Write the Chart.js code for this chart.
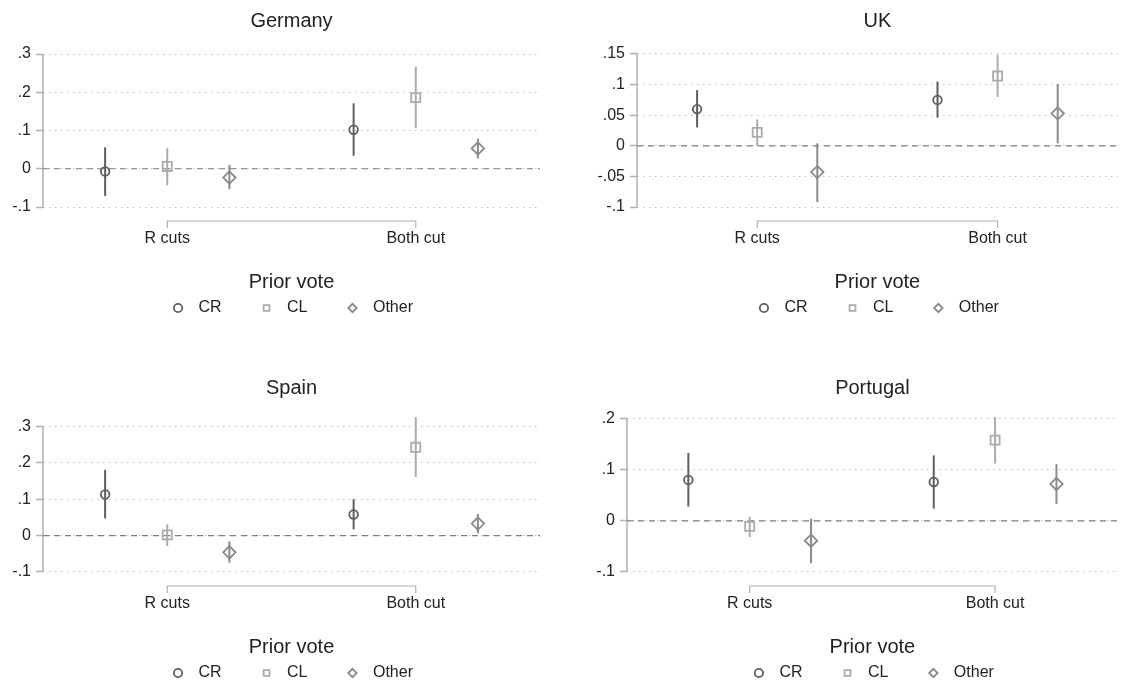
<!DOCTYPE html>
<html>
<head>
<meta charset="utf-8">
<title>Prior vote effects</title>
<script src="https://cdn.jsdelivr.net/npm/chart.js@4.4.1/dist/chart.umd.min.js"></script>
<style>
    html, body { margin: 0; padding: 0; background: #fff; overflow: hidden; }
    #wrap { position: relative; width: 1121px; height: 686px; overflow: hidden; }
    canvas { position: absolute; }
</style>
</head>
<body>
<div id="wrap">
    <canvas id="germany" width="560" height="326" style="left:0;top:0"></canvas>
    <canvas id="uk" width="566" height="326" style="left:560px;top:0"></canvas>
    <canvas id="spain" width="560" height="324" style="left:0;top:367px"></canvas>
    <canvas id="portugal" width="566" height="324" style="left:560px;top:367px"></canvas>
</div>
<script>
// categories and series
const groupLabels = ['R cuts', 'Both cut'];
const seriesNames = ['CR', 'CL', 'Other'];

// estimates per series (rows: CR, CL, Other; cols: R cuts, Both cut)
const germanyEst = [[-0.007, 0.102], [0.006, 0.186], [-0.023, 0.053]];
const germanyLo  = [[-0.071, 0.034], [-0.043, 0.106], [-0.053, 0.027]];
const germanyHi  = [[0.056, 0.171], [0.054, 0.267], [0.010, 0.079]];

const ukEst = [[0.060, 0.075], [0.022, 0.114], [-0.043, 0.053]];
const ukLo  = [[0.030, 0.046], [0.000, 0.080], [-0.092, 0.004]];
const ukHi  = [[0.091, 0.105], [0.043, 0.149], [0.004, 0.101]];

const spainEst = [[0.113, 0.058], [0.002, 0.243], [-0.046, 0.033]];
const spainLo  = [[0.047, 0.017], [-0.029, 0.161], [-0.075, 0.006]];
const spainHi  = [[0.181, 0.100], [0.031, 0.326], [-0.016, 0.059]];

const portugalEst = [[0.080, 0.076], [-0.011, 0.158], [-0.039, 0.072]];
const portugalLo  = [[0.028, 0.024], [-0.032, 0.112], [-0.083, 0.033]];
const portugalHi  = [[0.133, 0.128], [0.008, 0.203], [0.004, 0.111]];

// y axis tick labels
const germanyTicks = [-0.1, 0, 0.1, 0.2, 0.3];
const ukTicks = [-0.1, -0.05, 0, 0.05, 0.1, 0.15];
const spainTicks = [-0.1, 0, 0.1, 0.2, 0.3];
const portugalTicks = [-0.1, 0, 0.1, 0.2];

// look of each series and where it sits inside a group
const seriesOffset = [-0.25, 0, 0.25];
const seriesStyle = [
    { pointStyle: 'circle',  radius: 4.3, color: '#5e5e5e' },
    { pointStyle: 'rect',    radius: 6.4, color: '#ababab' },
    { pointStyle: 'rectRot', radius: 6.2, color: '#8a8a8a' }
];

Chart.defaults.font.family = '"Liberation Sans", Arial, sans-serif';
Chart.defaults.color = '#222';

function fmtTick(v) {
    if (v === 0) return '0';
    return String(v).replace('0.', '.');
}

// vertical spikes for confidence intervals
const errorBars = {
    id: 'errorBars',
    afterDatasetsDraw(chart) {
        const { ctx, scales: { x, y } } = chart;
        ctx.save();
        ctx.lineWidth = 2;
        chart.data.datasets.forEach(ds => {
            if (ds.type !== 'scatter') return;
            ctx.strokeStyle = ds.borderColor;
            ds.data.forEach(p => {
                const px = x.getPixelForValue(p.x);
                ctx.beginPath();
                ctx.moveTo(px, y.getPixelForValue(p.lo));
                ctx.lineTo(px, y.getPixelForValue(p.hi));
                ctx.stroke();
            });
        });
        ctx.restore();
    }
};

// stata style axis lines: y from first to last tick, x bracket between groups
const stataAxes = {
    id: 'stataAxes',
    beforeDatasetsDraw(chart) {
        const { ctx, chartArea, scales: { x, y } } = chart;
        const yt = y.ticks.map(t => y.getPixelForValue(t.value));
        ctx.save();
        ctx.strokeStyle = '#b0b0b0';
        ctx.lineWidth = 1.5;
        ctx.beginPath();
        ctx.moveTo(chartArea.left, Math.max(...yt));
        ctx.lineTo(chartArea.left, Math.min(...yt));
        ctx.stroke();

        const xt = x.ticks.map(t => x.getPixelForValue(t.value));
        const by = chartArea.bottom + 4;
        ctx.lineWidth = 1.2;
        ctx.beginPath();
        ctx.moveTo(xt[0], by + 7);
        ctx.lineTo(xt[0], by);
        ctx.lineTo(xt[xt.length - 1], by);
        ctx.lineTo(xt[xt.length - 1], by + 7);
        ctx.stroke();
        ctx.restore();
    }
};

function makeChart(id, title, est, lo, hi, yTicks, axisWidth, padRight, titlePadBottom) {
    const datasets = seriesNames.map((name, s) => ({
        type: 'scatter',
        label: name,
        data: groupLabels.map((g, i) => ({
            x: i + 1 + seriesOffset[s],
            y: est[s][i],
            lo: lo[s][i],
            hi: hi[s][i]
        })),
        pointStyle: seriesStyle[s].pointStyle,
        pointRadius: seriesStyle[s].radius,
        pointHoverRadius: seriesStyle[s].radius,
        borderColor: seriesStyle[s].color,
        backgroundColor: 'rgba(0,0,0,0)',
        borderWidth: 1.8,
        clip: false,
        order: 1
    }));

    // dashed reference line at zero
    datasets.push({
        type: 'line',
        label: 'zero',
        data: [{ x: 0.5, y: 0 }, { x: 2.5, y: 0 }],
        borderColor: '#7d7d7d',
        borderWidth: 1.2,
        borderDash: [6, 5],
        pointRadius: 0,
        order: 10
    });

    // range covers ticks and intervals, with a small margin
    const allVals = yTicks.concat(lo.flat(), hi.flat());
    const extMin = Math.min(...allVals);
    const extMax = Math.max(...allVals);
    const pad = (extMax - extMin) * 10 / 153;

    return new Chart(document.getElementById(id), {
        data: { datasets },
        plugins: [stataAxes, errorBars],
        options: {
            responsive: false,
            animation: false,
            layout: { padding: { left: 0, right: padRight, top: 0, bottom: 0 } },
            plugins: {
                title: {
                    display: true,
                    text: title,
                    fullSize: false,
                    color: '#222',
                    font: { size: 20, weight: 'normal' },
                    padding: { top: 9, bottom: titlePadBottom }
                },
                legend: {
                    display: true,
                    position: 'bottom',
                    fullSize: false,
                    title: {
                        display: true,
                        text: 'Prior vote',
                        color: '#222',
                        font: { size: 20 },
                        padding: { top: 11.8, bottom: -33 }
                    },
                    labels: {
                        usePointStyle: true,
                        boxHeight: 5.9,
                        padding: 37,
                        color: '#222',
                        font: { size: 16 },
                        generateLabels: chart => Chart.defaults.plugins.legend.labels.generateLabels(chart)
                            .filter(item => item.datasetIndex < seriesNames.length)
                            .map(item => ({ ...item, text: ' ' + item.text }))
                    }
                },
                tooltip: { enabled: false }
            },
            scales: {
                x: {
                    type: 'linear',
                    min: 0.5,
                    max: 2.5,
                    afterBuildTicks: sc => { sc.ticks = groupLabels.map((g, i) => ({ value: i + 1 })); },
                    ticks: {
                        color: '#222',
                        font: { size: 16 },
                        padding: 12,
                        autoSkip: false,
                        maxRotation: 0,
                        callback: (v, i) => groupLabels[i]
                    },
                    grid: { display: false, drawTicks: false },
                    border: { display: false }
                },
                y: {
                    type: 'linear',
                    min: extMin - pad,
                    max: extMax + pad,
                    afterBuildTicks: sc => { sc.ticks = yTicks.map(v => ({ value: v })); },
                    afterFit: sc => { sc.width = axisWidth; },
                    ticks: {
                        color: '#222',
                        font: { size: 16 },
                        padding: 5,
                        callback: v => fmtTick(v)
                    },
                    grid: {
                        color: '#bdbdbd',
                        lineWidth: 1,
                        tickLength: 7,
                        tickColor: '#b0b0b0',
                        tickWidth: 1.5
                    },
                    border: { display: false, dash: [1.5, 4.5] }
                }
            }
        }
    });
}

makeChart('germany', 'Germany', germanyEst, germanyLo, germanyHi, germanyTicks, 43, 20, 11);
makeChart('uk', 'UK', ukEst, ukLo, ukHi, ukTicks, 77, 0, 11);
makeChart('spain', 'Spain', spainEst, spainLo, spainHi, spainTicks, 43, 20, 7);
makeChart('portugal', 'Portugal', portugalEst, portugalLo, portugalHi, portugalTicks, 67, 0, 7);
</script>
</body>
</html>
